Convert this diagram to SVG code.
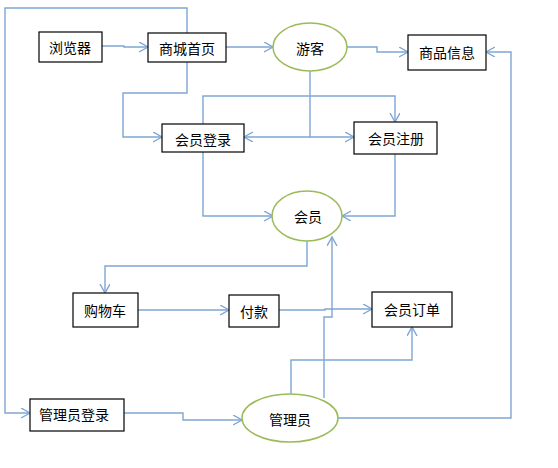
<svg xmlns="http://www.w3.org/2000/svg" width="558" height="468" viewBox="0 0 558 468">
<style>
.box{fill:#fff;stroke:#000;stroke-width:1.2}
.ell{fill:#fff;stroke:#9bbb59;stroke-width:1.5}
.lbl{font-family:"Noto Sans CJK SC","Noto Sans CJK JP",sans-serif;font-size:14px;fill:#000;text-anchor:middle;dominant-baseline:central}
.c{fill:none;stroke:#7fa6d4;stroke-width:1.4;marker-end:url(#ah)}
</style>
<defs>
<marker id="ah" markerUnits="userSpaceOnUse" markerWidth="12" markerHeight="12" refX="9" refY="5" orient="auto" viewBox="0 0 12 12">
<path d="M0,0 L9,5 L0,10" fill="none" stroke="#7fa6d4" stroke-width="1.4"/>
</marker>
</defs>
<rect width="558" height="468" fill="#fff"/>
<g id="connectors">
<path class="c" d="M187,33 V8 H5 V413 H30"/>
<path class="c" d="M102,46 H124 V47 H148"/>
<path class="c" d="M226,47 H273"/>
<path class="c" d="M347,47 H377 V52 H408"/>
<path class="c" d="M187,62 V93 H123 V137 H162"/>
<path class="c" d="M310,71 V137 H244"/>
<path class="c" d="M310,137 H354"/>
<path class="c" d="M203,124 V96 H395 V122"/>
<path class="c" d="M203,152 V216 H273"/>
<path class="c" d="M395,154 V216 H342"/>
<path class="c" d="M307,241 V266 H105 V293"/>
<path class="c" d="M138,310 H229"/>
<path class="c" d="M279,310 H325 V309 H372"/>
<path class="c" d="M324,398 V317 H332 V237"/>
<path class="c" d="M291,395 V360 H412 V327"/>
<path class="c" d="M338,418 H511 V52 H486"/>
<path class="c" d="M124,413 H183 V420 H242"/>
</g>
<g id="browser"><rect class="box" x="39" y="32" width="63" height="30"/><text class="lbl" x="70" y="47">浏览器</text></g>
<g id="home"><rect class="box" x="148" y="33" width="78" height="29"/><text class="lbl" x="187" y="48">商城首页</text></g>
<g id="guest"><ellipse class="ell" cx="310" cy="47" rx="37" ry="24"/><text class="lbl" x="310" y="48">游客</text></g>
<g id="goods"><rect class="box" x="408" y="35" width="78" height="35"/><text class="lbl" x="447" y="52">商品信息</text></g>
<g id="login"><rect class="box" x="162" y="124" width="82" height="28"/><text class="lbl" x="203" y="139">会员登录</text></g>
<g id="register"><rect class="box" x="354" y="122" width="83" height="32"/><text class="lbl" x="396" y="138">会员注册</text></g>
<g id="member"><ellipse class="ell" cx="307" cy="216" rx="35" ry="25"/><text class="lbl" x="308" y="216">会员</text></g>
<g id="cart"><rect class="box" x="73" y="293" width="65" height="34"/><text class="lbl" x="105" y="310">购物车</text></g>
<g id="pay"><rect class="box" x="229" y="295" width="50" height="32"/><text class="lbl" x="254" y="311">付款</text></g>
<g id="order"><rect class="box" x="372" y="292" width="80" height="35"/><text class="lbl" x="412" y="309">会员订单</text></g>
<g id="adminlogin"><rect class="box" x="30" y="399" width="94" height="32"/><text class="lbl" x="74" y="414">管理员登录</text></g>
<g id="admin"><ellipse class="ell" cx="290" cy="418" rx="48" ry="24"/><text class="lbl" x="290" y="419">管理员</text></g>
</svg>
